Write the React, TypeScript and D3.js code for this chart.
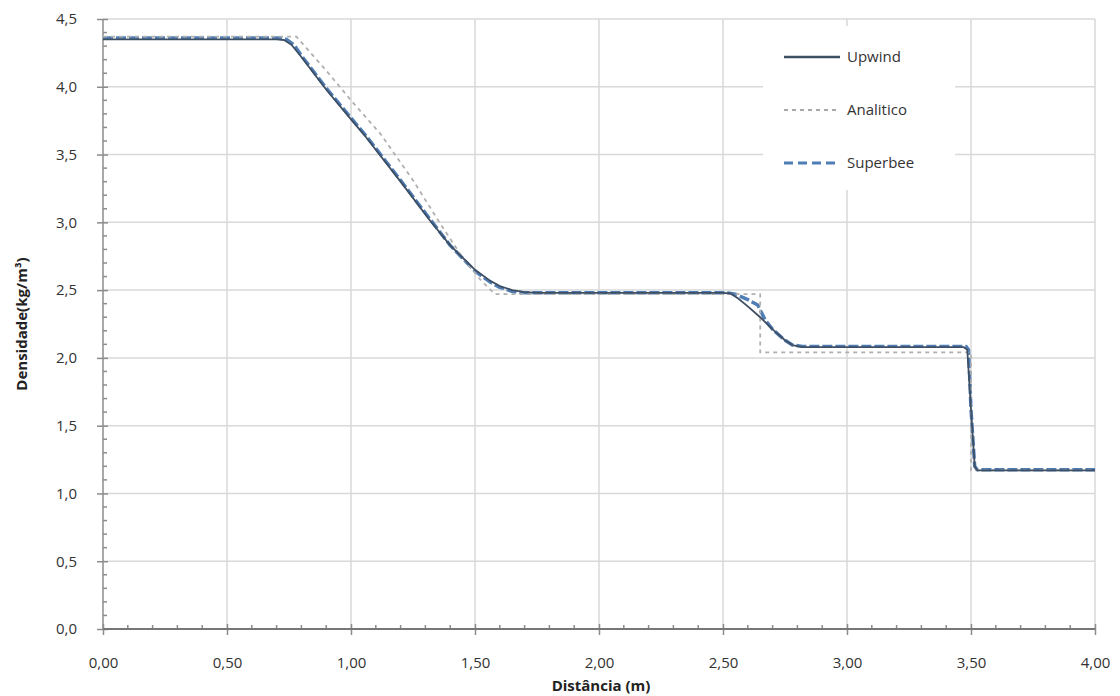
import { useEffect, useRef } from 'react';
import * as d3 from 'd3';

// densities: [distance (m), density (kg/m3)]
const upwind: [number, number][] = [
  [0, 4.35], [0.70, 4.35], [0.73, 4.345], [0.76, 4.31], [0.80, 4.22], [0.85, 4.10],
  [0.90, 3.98], [1.00, 3.76], [1.06, 3.63], [1.20, 3.30], [1.32, 3.01], [1.40, 2.83],
  [1.50, 2.65], [1.56, 2.57], [1.60, 2.53], [1.65, 2.50], [1.70, 2.485], [1.75, 2.48],
  [2.50, 2.48], [2.53, 2.475], [2.56, 2.44], [2.60, 2.38], [2.65, 2.30], [2.70, 2.21],
  [2.75, 2.13], [2.78, 2.095], [2.82, 2.08], [3.47, 2.08], [3.485, 2.06], [3.50, 1.62],
  [3.515, 1.20], [3.525, 1.17], [4.00, 1.17],
];

const analitico: [number, number][] = [
  [0, 4.37], [0.78, 4.37], [0.90, 4.12], [1.00, 3.90], [1.12, 3.65], [1.25, 3.31],
  [1.36, 2.99], [1.45, 2.74], [1.52, 2.58], [1.58, 2.47], [2.65, 2.47], [2.65, 2.04],
  [3.50, 2.04], [3.50, 1.17], [4.00, 1.17],
];

const superbee: [number, number][] = [
  [0, 4.36], [0.71, 4.36], [0.74, 4.35], [0.77, 4.31], [0.80, 4.23], [0.85, 4.11],
  [0.90, 3.99], [1.00, 3.77], [1.06, 3.64], [1.20, 3.31], [1.32, 3.02], [1.40, 2.83],
  [1.50, 2.64], [1.56, 2.56], [1.60, 2.52], [1.65, 2.49], [1.70, 2.48], [2.52, 2.48],
  [2.55, 2.47], [2.60, 2.43], [2.64, 2.39], [2.67, 2.28], [2.70, 2.21], [2.75, 2.13],
  [2.78, 2.095], [2.82, 2.085], [3.48, 2.085], [3.49, 2.06], [3.50, 1.62], [3.515, 1.20],
  [3.525, 1.175], [4.00, 1.175],
];

const xTicks = [0, 0.5, 1, 1.5, 2, 2.5, 3, 3.5, 4];
const yTicks = [0, 0.5, 1, 1.5, 2, 2.5, 3, 3.5, 4, 4.5];

const seriesNames = ['Upwind', 'Analitico', 'Superbee'];

export default function App() {
  const ref = useRef<SVGSVGElement>(null);

  useEffect(() => {
    const svg = d3.select(ref.current);
    svg.selectAll('*').remove();

    const font = '"Open Sans", "DejaVu Sans", sans-serif';
    const x = d3.scaleLinear().domain([0, 4]).range([103, 1095]);
    const y = d3.scaleLinear().domain([0, 4.5]).range([629, 19]);
    const comma = (f: string) => (v: number) => d3.format(f)(v).replace('.', ',');

    // grid
    svg.append('g')
      .selectAll('line')
      .data(yTicks.slice(1))
      .enter()
      .append('line')
      .attr('x1', x(0)).attr('x2', x(4))
      .attr('y1', (d) => y(d)).attr('y2', (d) => y(d))
      .attr('stroke', '#d9d9d9').attr('stroke-width', 1.5);

    svg.append('g')
      .selectAll('line')
      .data(xTicks.slice(1))
      .enter()
      .append('line')
      .attr('x1', (d) => x(d)).attr('x2', (d) => x(d))
      .attr('y1', y(0)).attr('y2', y(4.5))
      .attr('stroke', '#d9d9d9').attr('stroke-width', 1.5);

    // axes
    const axisColor = '#8c8c8c';
    const xMinor = d3.range(0, 4.0001, 0.1).filter((v) => Math.abs(v * 2 - Math.round(v * 2)) > 1e-6);
    const yMinor = d3.range(0, 4.5001, 0.1).filter((v) => Math.abs(v * 2 - Math.round(v * 2)) > 1e-6);

    const xAxis = svg.append('g').attr('transform', `translate(0, ${y(0)})`)
      .call(d3.axisBottom(x).tickValues(xTicks).tickFormat(comma('.2f') as any).tickSize(6).tickPadding(22));
    xAxis.select('.domain').remove();
    xAxis.selectAll('.tick line').attr('y1', -5).attr('stroke', axisColor).attr('stroke-width', 1.5);
    xAxis.selectAll('text').attr('fill', '#333').style('font-family', font).style('font-size', '15px');

    const yAxis = svg.append('g').attr('transform', `translate(${x(0)}, 0)`)
      .call(d3.axisLeft(y).tickValues(yTicks).tickFormat(comma('.1f') as any).tickSize(6).tickPadding(20));
    yAxis.select('.domain').remove();
    yAxis.selectAll('.tick line').attr('x1', 5).attr('stroke', axisColor).attr('stroke-width', 1.5);
    yAxis.selectAll('text').attr('fill', '#333').style('font-family', font).style('font-size', '15px');

    svg.append('g').selectAll('line').data(xMinor).enter().append('line')
      .attr('x1', (d) => x(d)).attr('x2', (d) => x(d))
      .attr('y1', y(0)).attr('y2', y(0) - 4)
      .attr('stroke', axisColor).attr('stroke-width', 1.5);
    svg.append('g').selectAll('line').data(yMinor).enter().append('line')
      .attr('x1', x(0)).attr('x2', x(0) + 4)
      .attr('y1', (d) => y(d)).attr('y2', (d) => y(d))
      .attr('stroke', axisColor).attr('stroke-width', 1.5);

    svg.append('line')
      .attr('x1', x(0)).attr('x2', x(4)).attr('y1', y(0)).attr('y2', y(0))
      .attr('stroke', '#777').attr('stroke-width', 2);
    svg.append('line')
      .attr('x1', x(0)).attr('x2', x(0)).attr('y1', y(0)).attr('y2', y(4.5))
      .attr('stroke', axisColor).attr('stroke-width', 1.5);

    // lines: superbee underneath, upwind on top
    const line = d3.line<[number, number]>().x((d) => x(d[0])).y((d) => y(d[1]));
    const styles = [
      { data: superbee, color: '#4f7db5', width: 3.4, dash: '10,3' },
      { data: analitico, color: '#b0b0b0', width: 1.8, dash: '4,4' },
      { data: upwind, color: '#3f4f63', width: 1.8, dash: null },
    ];
    styles.forEach((s) => {
      svg.append('path')
        .datum(s.data)
        .attr('d', line)
        .attr('fill', 'none')
        .attr('stroke', s.color)
        .attr('stroke-width', s.width)
        .attr('stroke-dasharray', s.dash)
        .attr('stroke-linejoin', 'round');
    });

    // legend
    const legend = svg.append('g');
    legend.append('rect')
      .attr('x', 763).attr('y', 26).attr('width', 192).attr('height', 164)
      .attr('fill', 'white');
    const legendStyles = [
      { color: '#3f4f63', width: 2.5, dash: null },
      { color: '#8a8a8a', width: 1.5, dash: '4,4' },
      { color: '#4f7db5', width: 3, dash: '9,5' },
    ];
    seriesNames.forEach((name, i) => {
      const ly = 57 + i * 53;
      legend.append('line')
        .attr('x1', 784).attr('x2', 840).attr('y1', ly).attr('y2', ly)
        .attr('stroke', legendStyles[i].color)
        .attr('stroke-width', legendStyles[i].width)
        .attr('stroke-dasharray', legendStyles[i].dash);
      legend.append('text')
        .attr('x', 847).attr('y', ly + 5)
        .attr('fill', '#333')
        .style('font-family', font).style('font-size', '15px')
        .text(name);
    });

    // axis titles
    svg.append('text')
      .attr('transform', `translate(27, ${y(2.25)}) rotate(-90)`)
      .attr('text-anchor', 'middle')
      .attr('fill', '#222')
      .style('font-family', font).style('font-size', '15px').style('font-weight', 'bold')
      .text('Densidade(kg/m³)');
    svg.append('text')
      .attr('x', (x(0) + x(4)) / 2 + 2).attr('y', 691)
      .attr('text-anchor', 'middle')
      .attr('fill', '#222')
      .style('font-family', font).style('font-size', '15px').style('font-weight', 'bold')
      .text('Distância (m)');
  }, []);

  return (
    <svg
      ref={ref}
      width={1120}
      height={696}
      style={{ position: 'absolute', left: 0, top: 0, background: 'white' }}
    ></svg>
  );
}
